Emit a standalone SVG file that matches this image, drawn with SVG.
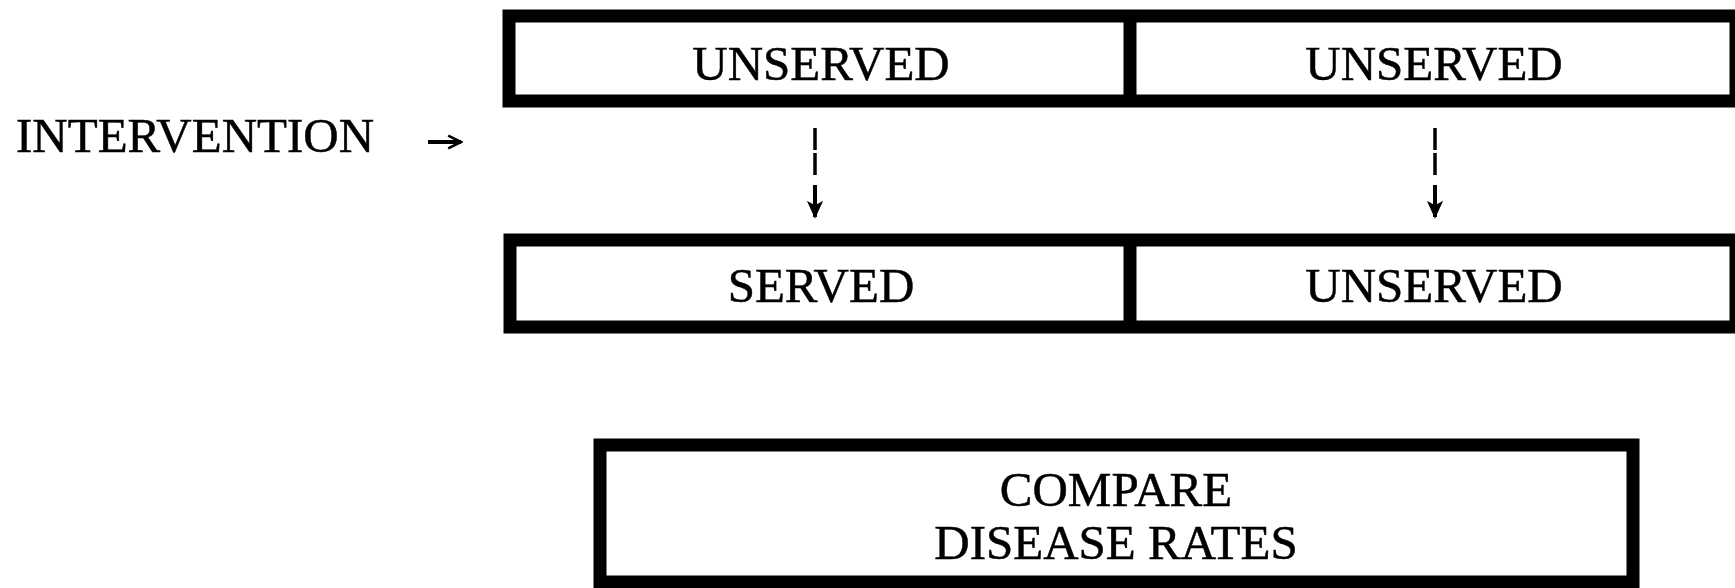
<svg xmlns="http://www.w3.org/2000/svg" width="1735" height="588" viewBox="0 0 1735 588">
  <defs>
    <marker id="head" viewBox="0 0 10 10" refX="9" refY="5" markerWidth="4.5" markerHeight="4.5" markerUnits="strokeWidth" orient="auto">
      <path d="M0,0.5 L10,5 L0,9.5 L2.5,5 Z" fill="#000"/>
    </marker>
    <marker id="open" viewBox="0 0 10 10" refX="9" refY="5" markerWidth="4" markerHeight="4" markerUnits="strokeWidth" orient="auto">
      <path d="M1,1 L9,5 L1,9" fill="none" stroke="#000" stroke-width="1.6"/>
    </marker>
  </defs>
  <style>
    .box { fill: #fff; stroke: #000; stroke-width: 13; }
    .bar { stroke: #000; stroke-width: 13; }
    .lbl { font-family: "Liberation Serif", "Times New Roman", serif; font-size: 49px; fill: #000; stroke: #000; stroke-width: 0.5; text-anchor: middle; }
    .side { font-family: "Liberation Serif", "Times New Roman", serif; font-size: 49px; fill: #000; stroke: #000; stroke-width: 0.5; }
    .dash { stroke: #000; stroke-width: 3.5; fill: none; stroke-dasharray: 22 3; }
    .shaft { stroke: #000; stroke-width: 4; fill: none; }
  </style>
  <rect width="1735" height="588" fill="#fff"/>

  <!-- top row: before the intervention -->
  <g id="top-row">
    <rect class="box" x="509" y="16" width="1227" height="85"/>
    <line class="bar" x1="1130" y1="16" x2="1130" y2="101"/>
  </g>
  <g id="top-left">
    <text class="lbl" x="821" y="80">UNSERVED</text>
  </g>
  <g id="top-right">
    <text class="lbl" x="1434" y="80">UNSERVED</text>
  </g>

  <!-- intervention label -->
  <g id="intervention">
    <text class="side" x="16" y="152">INTERVENTION</text>
    <path class="shaft" d="M428,142 L461,142" stroke-width="2.5" marker-end="url(#open)"/>
  </g>

  <!-- bottom row: after the intervention -->
  <g id="bottom-row">
    <rect class="box" x="510" y="240" width="1226" height="87"/>
    <line class="bar" x1="1130" y1="240" x2="1130" y2="327"/>
  </g>
  <g id="bottom-left">
    <text class="lbl" x="821" y="302">SERVED</text>
  </g>
  <g id="bottom-right">
    <text class="lbl" x="1434" y="302">UNSERVED</text>
  </g>

  <!-- comparison -->
  <g id="compare">
    <rect class="box" x="600" y="445" width="1033" height="137"/>
    <text class="lbl" x="1116" y="506">COMPARE</text>
    <text class="lbl" x="1116" y="559">DISEASE RATES</text>
  </g>

  <!-- connectors -->
  <g id="connectors">
    <line class="dash" x1="815" y1="128" x2="815" y2="176"/>
    <line class="shaft" x1="815" y1="185" x2="815" y2="217" marker-end="url(#head)"/>
    <line class="dash" x1="1435" y1="128" x2="1435" y2="176"/>
    <line class="shaft" x1="1435" y1="185" x2="1435" y2="217" marker-end="url(#head)"/>
  </g>
</svg>
